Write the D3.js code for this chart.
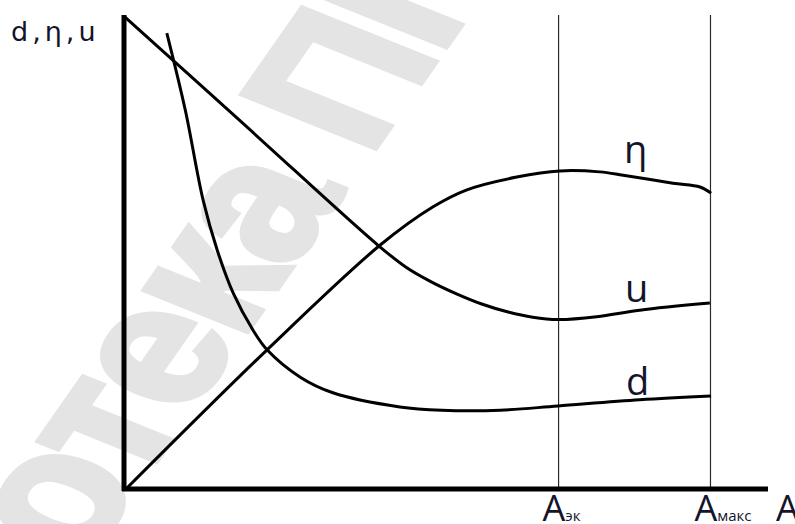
<!DOCTYPE html>
<html>
<head>
<meta charset="utf-8">
<script src="https://cdn.jsdelivr.net/npm/d3@7"></script>
<style>
  body { margin: 0; background: #fff; }
  svg { display: block; }
</style>
</head>
<body>
<svg width="795" height="524"></svg>
<script>
// data (x: 0..10 of A, y: 0..10 of the value)
const xMarks = [7.05, 9.52];           // Aэк, Aмакс
const xMarkNames = ["эк", "макс"];
const uX = [0, 2.0, 4.11, 4.57, 4.98, 5.40, 5.80, 6.23, 6.63, 7.04, 7.67, 8.37, 9.51];
const uY = [10.02, 7.67, 5.19, 4.72, 4.41, 4.15, 3.94, 3.77, 3.66, 3.61, 3.67, 3.81, 3.96];
const etaX = [0, 2.31, 4.15, 5.01, 5.56, 6.37, 7.07, 7.72, 8.10, 8.91, 9.35, 9.53];
const etaY = [0, 2.97, 5.19, 6.00, 6.36, 6.63, 6.76, 6.74, 6.67, 6.50, 6.42, 6.29];
const dX = [0.68, 0.98, 1.27, 1.50, 1.76, 2.08, 2.31, 2.85, 3.38, 4.47, 5.15, 6.10, 7.04, 8.37, 9.53];
const dY = [9.68, 8.05, 6.14, 5.08, 4.17, 3.39, 2.97, 2.39, 2.06, 1.76, 1.69, 1.69, 1.78, 1.91, 1.99];
const curveNames = ["η", "u", "d"];

const svg = d3.select("svg");
const x = d3.scaleLinear().domain([0, 10]).range([125, 740]);
const y = d3.scaleLinear().domain([0, 10]).range([490, 18]);

svg.append("rect").attr("width", 795).attr("height", 524).attr("fill", "#fff");

// WATERMARK (stretched sideways like the scanned page)
const fs = 165;
const wm = svg.append("text")
  .attr("font-family", "Liberation Sans Narrow, Liberation Sans, Arial, sans-serif")
  .attr("font-weight", "bold")
  .attr("font-size", fs)
  .attr("letter-spacing", -4)
  .attr("fill", "#e4e4e4")
  .attr("stroke", "#e4e4e4").attr("stroke-width", 6)
  .text("Библиотека ПГУ");
const off = wm.node().getSubStringLength(0, 6) + wm.node().getSubStringLength(6, 1) / 2;
wm.attr("x", -off).attr("y", fs * 0.26)
  .attr("transform", "translate(112,432) scale(1.315,1) rotate(-62)");

// thin vertical lines
svg.selectAll(".vmark").data(xMarks).enter().append("line")
  .attr("x1", d => x(d)).attr("x2", d => x(d))
  .attr("y1", 15).attr("y2", 489)
  .attr("stroke", "#2a2a2a").attr("stroke-width", 1.2);

// CURVES
const line = d3.line().x(d => x(d[0])).y(d => y(d[1])).curve(d3.curveCatmullRom.alpha(0.5));
const series = [d3.zip(etaX, etaY), d3.zip(uX, uY), d3.zip(dX, dY)];
svg.selectAll(".curve").data(series).enter().append("path")
  .attr("d", line)
  .attr("fill", "none").attr("stroke", "#000")
  .attr("stroke-width", 3).attr("stroke-linejoin", "round");

// AXES
svg.append("line").attr("x1", 124).attr("x2", 124).attr("y1", 15).attr("y2", 491)
  .attr("stroke", "#000").attr("stroke-width", 5);
svg.append("line").attr("x1", 122).attr("x2", 768).attr("y1", 489).attr("y2", 489)
  .attr("stroke", "#000").attr("stroke-width", 5);

// LABELS
const font = "Open Sans, DejaVu Sans, sans-serif";
const ink = "#14142a";
svg.append("text").attr("x", 11).attr("y", 41)
  .attr("font-family", "DejaVu Sans, sans-serif").attr("font-size", 27)
  .attr("letter-spacing", 4).attr("fill", ink)
  .text("d,η,u");

const labelPos = [[624, 163], [625, 302], [626, 395]];
svg.selectAll(".clabel").data(curveNames).enter().append("text")
  .attr("x", (d, i) => labelPos[i][0]).attr("y", (d, i) => labelPos[i][1])
  .attr("font-family", font).attr("font-size", 38).attr("fill", ink)
  .text(d => d);

const ax = svg.selectAll(".alabel").data(xMarkNames).enter().append("text")
  .attr("x", (d, i) => x(xMarks[i]) - 16).attr("y", 521)
  .attr("font-family", font).attr("font-size", 36).attr("fill", ink);
ax.append("tspan").text("A");
ax.append("tspan").attr("font-size", 15).text(d => d);

svg.append("text").attr("x", 776).attr("y", 521)
  .attr("font-family", font).attr("font-size", 36).attr("fill", ink)
  .text("A");
</script>
</body>
</html>
